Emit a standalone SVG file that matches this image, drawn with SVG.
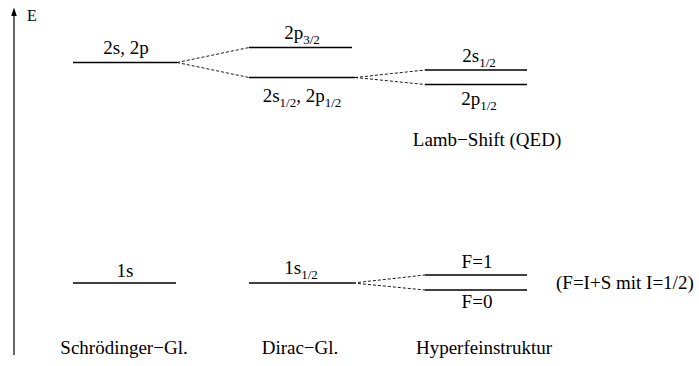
<svg xmlns="http://www.w3.org/2000/svg" width="699" height="366" viewBox="0 0 699 366">
<style>
text{font-family:'Liberation Serif','Times New Roman',Times,serif;font-size:19px;fill:#000}
.m{text-anchor:middle}
.lv{stroke:#000;stroke-width:1.3;fill:none}
.d{stroke:#000;stroke-width:0.9;stroke-dasharray:3,2;fill:none}
.ax{stroke:#000;stroke-width:1.2}
.sub{font-size:13px}
</style>
<g id="axis">
<line class="ax" x1="14" y1="355" x2="14" y2="10"/>
<path d="M11.2,16 L14,7.5 L16.8,16 Z" fill="#000"/>
<text x="27" y="21" style="font-size:16px">E</text>
</g>
<g id="connectors">
<path class="d" d="M177,62.5 L249,47.5 M177,62.5 L249,77.5"/>
<path class="d" d="M355,77.5 L425,70 M355,77.5 L425,84.5"/>
<path class="d" d="M353,283 L425,275 M353,283 L425,290"/>
</g>
<g id="n2s2p">
<line class="lv" x1="73" y1="62.5" x2="177" y2="62.5"/>
<text class="m" x="126" y="54">2s, 2p</text>
</g>
<g id="n2p32">
<line class="lv" x1="249" y1="47.5" x2="352" y2="47.5"/>
<text class="m" x="302" y="39">2p<tspan class="sub" dy="5">3/2</tspan></text>
</g>
<g id="n2s12">
<line class="lv" x1="249" y1="77.5" x2="355" y2="77.5"/>
<text class="m" x="302" y="102">2s<tspan class="sub" dy="5">1/2</tspan><tspan dy="-5">, 2p</tspan><tspan class="sub" dy="5">1/2</tspan></text>
</g>
<g id="lamb2s">
<line class="lv" x1="425" y1="70" x2="527" y2="70"/>
<text class="m" x="479" y="62">2s<tspan class="sub" dy="5">1/2</tspan></text>
</g>
<g id="lamb2p">
<line class="lv" x1="425" y1="84.5" x2="527" y2="84.5"/>
<text class="m" x="479" y="105">2p<tspan class="sub" dy="5">1/2</tspan></text>
</g>
<g id="lambLabel">
<text class="m" x="487" y="146">Lamb−Shift (QED)</text>
</g>
<g id="n1s">
<line class="lv" x1="73" y1="283" x2="176" y2="283"/>
<text class="m" x="125" y="277">1s</text>
</g>
<g id="n1s12">
<line class="lv" x1="249" y1="283" x2="353" y2="283"/>
<text class="m" x="301" y="274">1s<tspan class="sub" dy="5">1/2</tspan></text>
</g>
<g id="f1">
<line class="lv" x1="425" y1="275" x2="527" y2="275"/>
<text class="m" x="477" y="268">F=1</text>
</g>
<g id="f0">
<line class="lv" x1="425" y1="290" x2="527" y2="290"/>
<text class="m" x="477" y="308">F=0</text>
</g>
<g id="fnote">
<text x="556" y="289">(F=I+S mit I=1/2)</text>
</g>
<g id="labels">
<text class="m" x="124" y="354">Schrödinger−Gl.</text>
<text class="m" x="300" y="354">Dirac−Gl.</text>
<text class="m" x="484" y="354">Hyperfeinstruktur</text>
</g>
</svg>
